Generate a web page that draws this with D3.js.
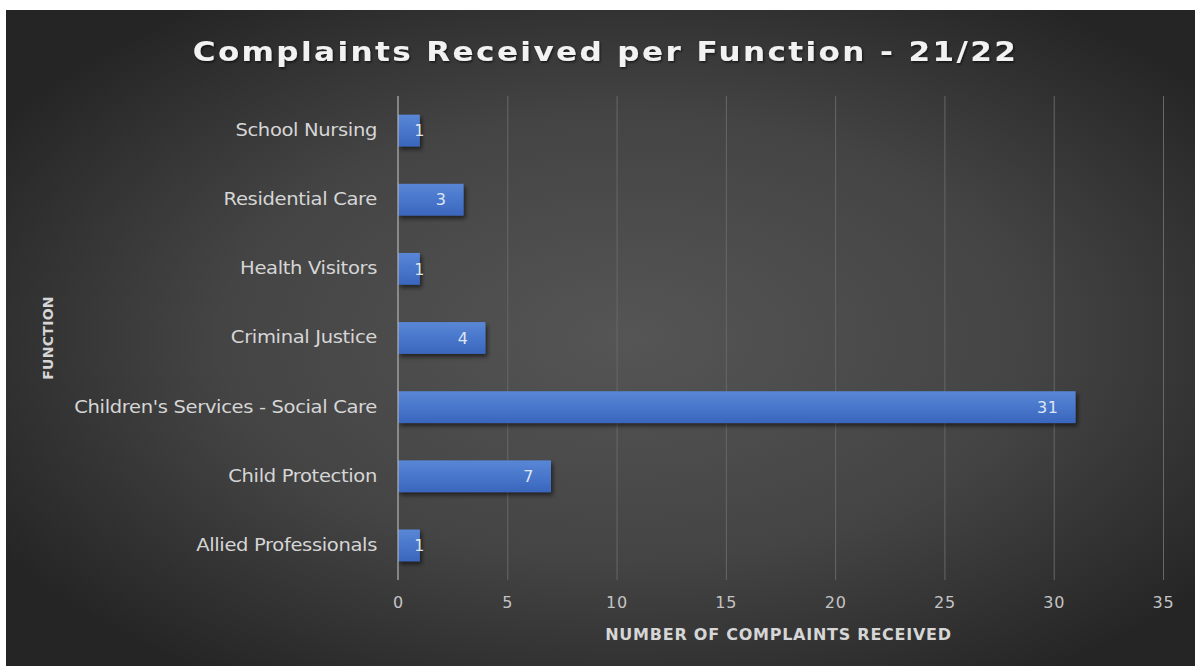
<!DOCTYPE html>
<html>
<head>
<meta charset="utf-8">
<script src="https://cdn.jsdelivr.net/npm/d3@7"></script>
<style>
  html, body { margin: 0; padding: 0; background: #ffffff; }
  svg { display: block; }
</style>
</head>
<body>
<svg id="chart" width="1195" height="666"></svg>
<script>
// Complaints per function, 2021/22
const categories = [
  "Allied Professionals",
  "Child Protection",
  "Children's Services - Social Care",
  "Criminal Justice",
  "Health Visitors",
  "Residential Care",
  "School Nursing"
];
const complaints = [1, 7, 31, 4, 1, 3, 1];
const xTickValues = [0, 5, 10, 15, 20, 25, 30, 35];

const titleText = "Complaints Received per Function - 21/22";
const xTitle = "NUMBER OF COMPLAINTS RECEIVED";
const yTitle = "FUNCTION";

const W = 1195, H = 666;
const panel = { x: 6, y: 10, w: W - 6, h: H - 10 };
const plot = { left: 398, right: 1163, top: 96, bottom: 580 };
const FONT = "'DejaVu Sans', 'Noto Sans', sans-serif";
const LABEL_STRETCH = 1.15;   // wide-set category lettering
const TITLE_STRETCH = 1.15;
const LABEL_PAD = 21;

const svg = d3.select("#chart");
const defs = svg.append("defs");

// dark radial backdrop
const bg = defs.append("radialGradient")
  .attr("id", "bgGrad")
  .attr("cx", "52%").attr("cy", "50%").attr("r", "62%");
bg.append("stop").attr("offset", "0%").attr("stop-color", "#555555");
bg.append("stop").attr("offset", "55%").attr("stop-color", "#444444");
bg.append("stop").attr("offset", "100%").attr("stop-color", "#252525");

// bar fill with soft vertical sheen
const barGrad = defs.append("linearGradient")
  .attr("id", "barGrad").attr("x1", 0).attr("y1", 0).attr("x2", 0).attr("y2", 1);
barGrad.append("stop").attr("offset", "0%").attr("stop-color", "#5a87d6");
barGrad.append("stop").attr("offset", "45%").attr("stop-color", "#4a78cc");
barGrad.append("stop").attr("offset", "100%").attr("stop-color", "#3a66bd");

const shadow = defs.append("filter")
  .attr("id", "barShadow").attr("x", "-10%").attr("y", "-20%")
  .attr("width", "130%").attr("height", "160%");
shadow.append("feDropShadow")
  .attr("dx", 2).attr("dy", 3).attr("stdDeviation", 2)
  .attr("flood-color", "#000").attr("flood-opacity", 0.55);

const textShadow = defs.append("filter").attr("id", "textShadow");
textShadow.append("feDropShadow")
  .attr("dx", 1).attr("dy", 1.5).attr("stdDeviation", 1)
  .attr("flood-color", "#000").attr("flood-opacity", 0.6);

svg.append("rect")
  .attr("x", panel.x).attr("y", panel.y)
  .attr("width", panel.w).attr("height", panel.h)
  .attr("fill", "url(#bgGrad)");

// scales
const x = d3.scaleLinear()
  .domain([0, 35])
  .range([plot.left, plot.right]);

const y = d3.scaleBand()
  .domain(categories.slice().reverse())
  .range([plot.top, plot.bottom])
  .paddingInner(0.54)
  .paddingOuter(0.27);

// vertical gridlines
const grid = svg.append("g")
  .attr("transform", `translate(0,${plot.bottom})`)
  .call(d3.axisBottom(x)
    .tickValues(xTickValues)
    .tickSize(-(plot.bottom - plot.top))
    .tickFormat(""));
grid.select(".domain").remove();
grid.selectAll(".tick line")
  .attr("stroke", "#676767")
  .attr("stroke-width", 1);
grid.selectAll(".tick").filter(d => d === 0).remove();

// x tick labels
const xAxis = svg.append("g")
  .attr("transform", `translate(0,${plot.bottom})`)
  .call(d3.axisBottom(x).tickValues(xTickValues).tickSize(0).tickPadding(17));
xAxis.select(".domain").remove();
xAxis.selectAll("text")
  .attr("fill", "#c4c4c4")
  .style("font-family", FONT)
  .style("font-size", "16px")
  .style("letter-spacing", "0.8px");

// bars
const data = categories.map((c, i) => ({ category: c, value: complaints[i] }));

svg.append("g")
  .selectAll("rect")
  .data(data)
  .join("rect")
  .attr("x", x(0))
  .attr("y", d => y(d.category))
  .attr("width", d => x(d.value) - x(0))
  .attr("height", y.bandwidth())
  .attr("fill", "url(#barGrad)")
  .attr("filter", "url(#barShadow)");

// category axis line
svg.append("line")
  .attr("x1", x(0)).attr("x2", x(0))
  .attr("y1", plot.top).attr("y2", plot.bottom)
  .attr("stroke", "#b5b5b5").attr("stroke-width", 1.2);

// category labels
const yAxis = svg.append("g")
  .attr("transform", `translate(${plot.left},0)`)
  .call(d3.axisLeft(y).tickSize(0).tickPadding(LABEL_PAD));
yAxis.select(".domain").remove();
yAxis.selectAll("text")
  .attr("x", -LABEL_PAD / LABEL_STRETCH)
  .attr("transform", `scale(${LABEL_STRETCH},1)`)
  .attr("fill", "#d6d6d6")
  .style("font-family", FONT)
  .style("font-size", "17px")
  .style("letter-spacing", "-0.3px");

// value labels, inside the bar end
svg.append("g")
  .selectAll("text")
  .data(data)
  .join("text")
  .attr("x", d => Math.max(x(d.value) - 17, x(0) + 27))
  .attr("y", d => y(d.category) + y.bandwidth() / 2)
  .attr("dy", "0.36em")
  .attr("text-anchor", "end")
  .attr("fill", "#dfe6f3")
  .style("font-family", FONT)
  .style("font-size", "16px")
  .style("letter-spacing", "0.6px")
  .text(d => d.value);

// title
svg.append("text")
  .attr("transform", `translate(605.5,61) scale(${TITLE_STRETCH},1)`)
  .attr("text-anchor", "middle")
  .attr("fill", "#f2f2f2")
  .attr("filter", "url(#textShadow)")
  .style("font-family", FONT)
  .style("font-size", "27px")
  .style("font-weight", "700")
  .style("letter-spacing", "2.1px")
  .text(titleText);

// axis titles
svg.append("text")
  .attr("x", (plot.left + plot.right) / 2 - 2)
  .attr("y", 640)
  .attr("text-anchor", "middle")
  .attr("fill", "#d6d6d6")
  .style("font-family", FONT)
  .style("font-size", "16px")
  .style("font-weight", "700")
  .style("letter-spacing", "0.75px")
  .text(xTitle);

svg.append("text")
  .attr("transform", `translate(53,${(plot.top + plot.bottom) / 2}) rotate(-90)`)
  .attr("text-anchor", "middle")
  .attr("fill", "#d6d6d6")
  .style("font-family", FONT)
  .style("font-size", "14px")
  .style("font-weight", "700")
  .style("letter-spacing", "0.3px")
  .text(yTitle);
</script>
</body>
</html>
